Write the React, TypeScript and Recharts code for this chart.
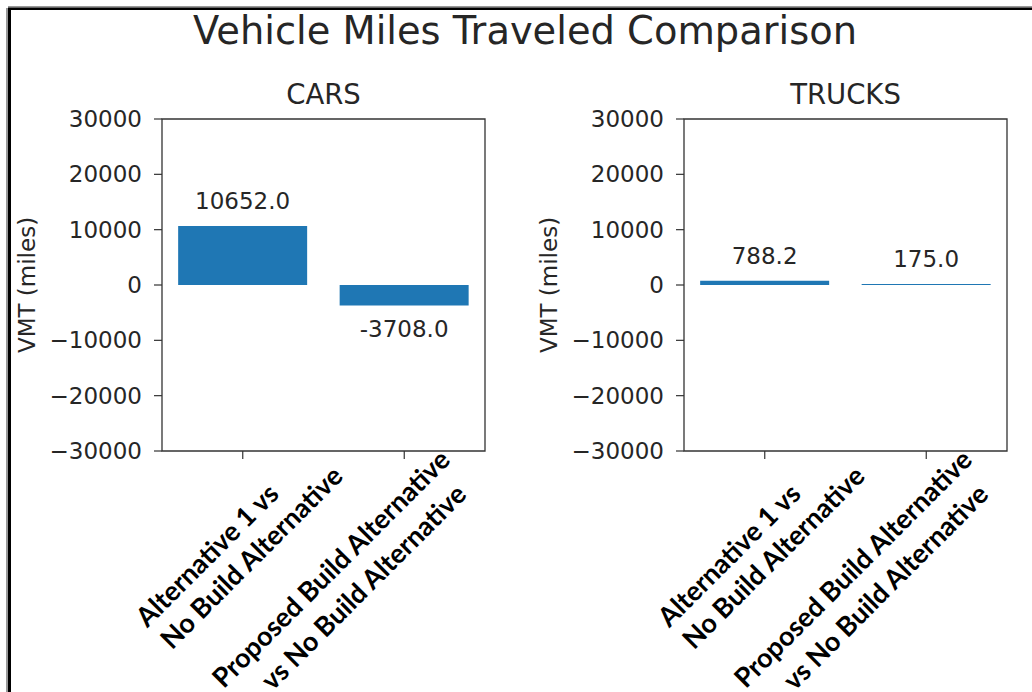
import { BarChart, Bar, XAxis, YAxis, ReferenceArea, LabelList } from 'recharts'

const categories = [
    'Alternative 1 vs\nNo Build Alternative',
    'Proposed Build Alternative\nvs No Build Alternative',
]
const carsVmt = [10652.0, -3708.0]
const trucksVmt = [788.2, 175.0]
const yTicks = [-30000, -20000, -10000, 0, 10000, 20000, 30000]

const MPL_FONT = '"DejaVu Sans", sans-serif'
const TEXT = '#262626'
const TICK_SIZE = 8

// where each line of the rotated category label sits, relative to its tick
// (u runs along the text, v runs down across it)
const tickLineLayout = [
    [
        { u: -99, v: 58 },
        { u: -69, v: 91 },
    ],
    [
        { u: -135, v: 41 },
        { u: -125, v: 77 },
    ],
]

const fmtTick = (v: number) => (v < 0 ? '\u2212' + Math.abs(v) : String(v))

function CategoryTick(props: any) {
    const { x, y, payload, index } = props
    const lines = String(payload.value).split('\n')
    const layout = tickLineLayout[index] ?? tickLineLayout[0]
    return (
        <g transform={`translate(${x},${y - TICK_SIZE}) rotate(-45)`}>
            {lines.map((line, i) => (
                <text
                    key={i}
                    x={layout[i].u}
                    y={layout[i].v}
                    textAnchor="middle"
                    fontFamily="Lato, sans-serif"
                    fontWeight={700}
                    fontSize={27}
                    fill="#000"
                >
                    {line}
                </text>
            ))}
        </g>
    )
}

function ValueLabel(props: any) {
    const vb = props.viewBox ?? props
    const x = vb.x ?? props.x
    const y = vb.y ?? props.y
    const width = vb.width ?? props.width
    const height = vb.height ?? props.height
    const value = Number(props.value)
    const top = Math.min(y, y + height)
    const bottom = Math.max(y, y + height)
    const cy = value >= 0 ? top - 25 : bottom + 23
    return (
        <text
            x={x + width / 2}
            y={cy}
            textAnchor="middle"
            dominantBaseline="central"
            fontFamily={MPL_FONT}
            fontSize={23}
            fill={TEXT}
        >
            {value.toFixed(1)}
        </text>
    )
}

interface PanelProps {
    values: number[]
    left: number
    width: number
    marginLeft: number
    marginRight: number
}

function Panel({ values, left, width, marginLeft, marginRight }: PanelProps) {
    const data = categories.map((name, i) => ({ name, value: values[i] }))
    return (
        <div style={{ position: 'absolute', left, top: 0 }}>
            <BarChart
                width={width}
                height={692}
                data={data}
                margin={{ top: 119, right: marginRight, left: marginLeft, bottom: 0 }}
                barCategoryGap="10%"
            >
                <XAxis
                    dataKey="name"
                    interval={0}
                    height={241}
                    axisLine={false}
                    tickSize={TICK_SIZE}
                    tickMargin={0}
                    tickLine={{ stroke: '#333', strokeWidth: 1.2 }}
                    tick={<CategoryTick />}
                />
                <YAxis
                    type="number"
                    domain={[-30000, 30000]}
                    ticks={yTicks}
                    interval={0}
                    width={80}
                    axisLine={false}
                    tickSize={TICK_SIZE}
                    tickMargin={12}
                    tickLine={{ stroke: '#333', strokeWidth: 1.2 }}
                    tickFormatter={fmtTick}
                    tick={{ fontFamily: MPL_FONT, fontSize: 23, fill: TEXT }}
                />
                <Bar dataKey="value" fill="#1f77b4" isAnimationActive={false}>
                    <LabelList dataKey="value" content={<ValueLabel />} />
                </Bar>
                <ReferenceArea
                    y1={-30000}
                    y2={30000}
                    fill="none"
                    stroke="#333"
                    strokeWidth={1.3}
                    ifOverflow="visible"
                />
            </BarChart>
        </div>
    )
}

export default function App() {
    return (
        <div
            style={{
                position: 'absolute',
                left: 0,
                top: 0,
                width: 1032,
                height: 692,
                background: '#fff',
                overflow: 'hidden',
            }}
        >
            <Panel values={carsVmt} left={0} width={520} marginLeft={82} marginRight={35} />
            <Panel values={trucksVmt} left={520} width={512} marginLeft={84} marginRight={25} />
            <svg
                width={1032}
                height={692}
                style={{ position: 'absolute', left: 0, top: 0, pointerEvents: 'none' }}
            >
                <rect x={8} y={6} width={1024} height={1.5} fill="#999" />
                <rect x={8} y={7.5} width={1024} height={2.5} fill="#000" />
                <rect x={6} y={8} width={2} height={684} fill="#999" />
                <rect x={8} y={8} width={3} height={684} fill="#000" />
                <text x={525} y={44} textAnchor="middle" fontFamily={MPL_FONT} fontSize={38.4} fill={TEXT}>
                    Vehicle Miles Traveled Comparison
                </text>
                <text x={323.5} y={104} textAnchor="middle" fontFamily={MPL_FONT} fontSize={27.5} fill={TEXT}>
                    CARS
                </text>
                <text x={845.5} y={104} textAnchor="middle" fontFamily={MPL_FONT} fontSize={27.5} fill={TEXT}>
                    TRUCKS
                </text>
                <text
                    transform="translate(35,285) rotate(-90)"
                    textAnchor="middle"
                    fontFamily={MPL_FONT}
                    fontSize={23}
                    fill={TEXT}
                >
                    VMT (miles)
                </text>
                <text
                    transform="translate(557,285) rotate(-90)"
                    textAnchor="middle"
                    fontFamily={MPL_FONT}
                    fontSize={23}
                    fill={TEXT}
                >
                    VMT (miles)
                </text>
            </svg>
        </div>
    )
}
